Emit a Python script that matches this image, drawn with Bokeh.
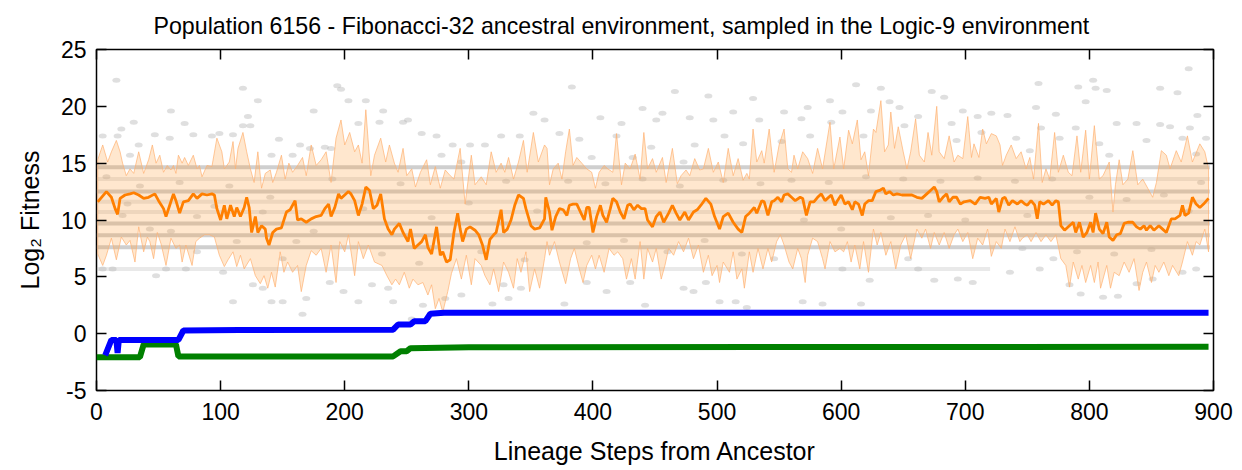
from bokeh.plotting import figure
from bokeh.models import LinearAxis, FixedTicker, Range1d, CustomLabelingPolicy
from bokeh.embed import file_html
from bokeh.resources import INLINE

TITLE = "Population 6156 - Fibonacci-32 ancestral environment, sampled in the Logic-9 environment"
X_LABEL = "Lineage Steps from Ancestor"
Y_LABEL = "Log\u2082 Fitness"
x_ticks = [0, 100, 200, 300, 400, 500, 600, 700, 800, 900]
y_ticks = [-5, 0, 5, 10, 15, 20, 25]
y_tick_text = {-5: "-5"}

# mean log2 fitness of the sampled population along the lineage
mean_step = [1, 8, 12, 15, 17, 19, 23, 27, 30, 34, 38, 42, 47, 50, 54, 56, 59, 62, 64, 67, 70, 74, 78, 81, 85, 89, 93, 95, 97, 100,
             103, 105, 108, 111, 113, 116, 119, 121, 123, 125, 128, 130, 133, 136, 137, 139, 142, 145, 149, 153, 156, 160, 162, 165, 169, 173, 177, 181,
             184, 187, 189, 192, 195, 197, 200, 203, 205, 208, 211, 214, 217, 220, 223, 226, 229, 232, 235, 238, 240, 244, 247, 251, 253, 256, 259, 262,
             265, 267, 270, 274, 277, 279, 282, 285, 288, 291, 293, 295, 298, 301, 305, 308, 311, 314, 317, 320, 322, 326, 328, 331, 334, 337, 340, 344,
             346, 350, 353, 357, 361, 362,
             365, 367, 370, 373, 376, 379, 381, 384, 387, 390, 393, 395, 397, 400, 403, 406, 408, 411, 414, 416, 419, 422, 425, 428, 430, 433, 436, 439,
             442, 444, 448, 451, 454, 457, 461, 464, 467, 470, 474, 477, 481, 484, 487, 491, 495, 498, 502, 505, 509, 513, 517, 520, 523, 526, 530, 532,
             536, 538, 541, 544,
             546, 549, 552, 554, 557, 560, 563, 567, 569, 572, 575, 578, 581, 584, 587, 589, 592, 595, 597, 600, 603, 606, 609, 611, 614, 617, 619, 622,
             625, 628, 631, 634, 636, 639, 642, 645, 649, 652, 657, 661, 665, 669, 672, 675, 677, 679, 682, 685, 687, 690, 693, 696, 699, 704, 708, 712,
             716, 719, 721, 725,
             727, 730, 732, 735, 738, 742, 745, 748, 750, 753, 756, 758, 760, 763, 767, 770, 773, 775, 777, 780, 783, 787, 789, 792, 795, 798, 801, 803,
             805, 808, 811, 814, 816, 819, 822, 825, 828, 831, 835, 838, 841, 844, 846, 849, 852, 856, 859, 862, 866, 869, 873, 875, 877, 880, 883, 886,
             889, 892, 896]
mean_fit = [11.6, 12.5, 12.0, 11.0, 10.5, 11.9, 12.2, 12.3, 12.4, 12.2, 11.9, 12.0, 12.3, 11.7, 11.0, 10.3, 11.3, 12.3, 11.7, 10.6, 11.6, 11.7, 12.3, 11.9, 12.3, 12.2, 12.3, 12.2, 11.0, 10.0,
            11.3, 10.1, 11.3, 10.3, 11.1, 10.3, 11.1, 12.0, 11.1, 8.9, 10.3, 8.9, 9.5, 9.2, 8.4, 7.8, 8.9, 9.2, 9.3, 10.7, 10.9, 11.7, 10.0, 10.1, 9.8, 10.1, 10.3, 10.4,
            11.0, 11.4, 10.3, 11.1, 12.3, 11.9, 12.2, 12.5, 12.3, 11.7, 10.4, 11.4, 12.9, 12.6, 11.0, 11.3, 12.3, 10.1, 9.2, 8.7, 9.2, 9.7, 8.9, 8.1, 9.2, 7.5, 7.8, 8.1,
            8.7, 7.6, 7.0, 9.4, 6.9, 7.2, 6.3, 6.5, 8.9, 10.6, 9.2, 8.1, 9.2, 9.4, 9.1, 8.7, 7.8, 6.5, 8.3, 8.7, 8.9, 10.9, 8.9, 9.2, 10.0, 11.3, 12.2, 11.9,
            11.0, 9.5, 9.2, 9.3, 10.1, 12.0,
            10.7, 9.1, 10.3, 11.0, 10.9, 10.4, 11.3, 11.4, 11.4, 10.7, 10.0, 11.1, 11.1, 8.9, 10.3, 11.3, 10.4, 9.8, 11.0, 11.9, 11.6, 10.7, 10.1, 11.3, 11.4, 10.9, 11.3, 11.0,
            11.0, 10.0, 9.4, 10.3, 10.7, 9.8, 10.6, 11.3, 10.6, 10.0, 10.7, 10.0, 10.7, 10.9, 11.3, 11.9, 11.4, 10.3, 9.2, 10.3, 10.6, 9.8, 9.2, 8.9, 10.3, 10.6, 11.1, 10.6,
            11.7, 11.6, 10.4, 11.6,
            11.7, 12.0, 11.6, 12.2, 12.3, 12.0, 11.7, 12.0, 11.9, 10.4, 11.6, 11.6, 12.0, 12.3, 11.7, 11.9, 12.2, 11.3, 11.7, 12.2, 11.4, 11.6, 10.9, 11.6, 11.4, 10.4, 11.4, 11.7,
            11.7, 12.5, 12.6, 12.8, 12.3, 12.5, 12.2, 12.3, 12.2, 12.2, 12.2, 12.0, 11.9, 12.3, 12.6, 12.9, 12.5, 11.6, 12.0, 12.3, 11.6, 12.0, 12.0, 11.4, 11.6, 11.7, 11.4, 12.0,
            11.9, 12.0, 11.4, 11.9,
            10.7, 11.9, 12.0, 11.3, 11.7, 11.4, 11.7, 11.4, 11.3, 11.7, 11.3, 10.1, 11.6, 11.4, 11.7, 11.3, 11.7, 11.6, 9.5, 9.1, 9.4, 9.8, 8.9, 9.8, 8.5, 8.9, 9.8, 8.9,
            10.6, 9.2, 8.8, 9.8, 8.5, 8.2, 8.7, 8.8, 9.7, 9.8, 9.8, 9.4, 9.2, 9.5, 9.1, 9.5, 9.1, 9.5, 9.2, 8.9, 10.1, 10.1, 10.4, 11.3, 10.4, 10.6, 12.0, 11.4,
            11.1, 11.4, 11.9]

# upper edge of the shaded spread
band_hi_step = [1, 5, 9, 12, 16, 19, 21, 24, 27, 30, 34, 38, 42, 45, 48, 51, 54, 57, 60, 62, 64, 66, 69, 71, 74, 78, 81, 83, 85, 89, 93, 97, 101, 103,
                107, 110, 112, 114, 118, 121, 124, 127, 130, 133, 136, 140, 142, 145, 149, 152, 155, 158, 162, 166, 169, 173, 177, 181,
                185, 189, 193, 197, 200, 204, 208, 211, 214, 217, 221, 224, 229, 233, 236, 240, 243, 247, 250, 254, 257, 261, 266, 269, 273, 277,
                281, 285, 288, 293, 297, 302, 305, 310, 314, 318, 322, 326, 329, 332, 336, 340, 344, 347, 352, 356, 361,
                363, 365, 368, 372, 375, 378, 381, 384, 387, 391, 395, 399, 402, 405, 409, 412, 416, 419, 423, 426, 430, 434, 438, 441, 444, 448,
                451, 456, 459, 464, 468, 471, 475, 478, 482, 486, 489, 493, 497, 501, 505, 509, 513, 517, 521, 524, 526, 529, 532, 536, 538, 542,
                544, 546, 550, 554, 557, 560, 562, 565, 569, 573, 577, 581, 585, 591, 594, 599, 602, 606, 609, 613, 616, 619, 622, 626, 628, 632,
                635, 638, 640, 643, 646, 650, 653, 656, 660, 663, 667, 670, 673, 677, 679, 683, 687, 691, 694, 698, 702, 705, 707, 711, 714, 717, 721,
                725, 728, 730, 733, 737, 741, 745, 749, 752, 755, 759, 762, 765, 768, 772, 775, 779, 783, 786, 790, 793, 797, 800, 804, 808, 811,
                816, 819, 821, 824, 827, 831, 835, 839, 843, 847, 851, 854, 858, 862, 865, 870, 874, 879, 883, 889, 893, 896]
band_hi_fit = [15.3, 16.6, 15.1, 16.0, 17.0, 16.0, 15.0, 13.9, 14.5, 14.1, 16.0, 14.1, 15.3, 16.6, 15.0, 15.7, 14.2, 14.8, 14.4, 14.8, 14.1, 15.7, 15.0, 15.5, 14.8, 15.7, 14.5, 14.8, 13.8, 14.8, 14.7, 17.2, 16.0, 14.5,
               15.1, 16.9, 14.5, 16.3, 17.7, 16.0, 14.5, 13.3, 16.0, 12.8, 14.1, 14.4, 13.3, 14.2, 15.7, 13.6, 15.0, 14.2, 14.8, 15.5, 13.9, 16.6, 14.8, 15.3,
               16.0, 13.3, 17.2, 18.8, 16.6, 17.7, 16.0, 16.6, 15.0, 19.7, 13.9, 15.7, 17.2, 15.1, 16.6, 15.0, 14.2, 16.3, 13.9, 14.5, 12.9, 14.2, 15.3, 13.1, 14.7, 12.8,
               14.4, 13.9, 13.6, 16.3, 11.4, 15.7, 13.1, 13.8, 13.1, 16.0, 14.2, 15.0, 14.2, 15.5, 13.6, 15.1, 17.0, 14.2, 17.7, 15.1, 16.6,
               16.3, 13.1, 14.5, 15.0, 13.6, 16.0, 18.0, 14.8, 15.5, 15.0, 14.5, 14.2, 12.8, 14.2, 14.8, 14.5, 14.2, 17.6, 13.1, 15.0, 14.5, 15.8, 13.6, 17.7, 14.5, 15.4,
               14.2, 15.5, 13.3, 16.3, 13.2, 13.9, 14.4, 13.9, 15.4, 14.4, 14.5, 16.3, 14.2, 15.1, 13.3, 16.3, 13.9, 15.4, 13.5, 14.1, 13.6, 18.0, 15.1, 16.1, 15.0, 18.0,
               16.0, 14.2, 16.6, 18.0, 14.5, 14.2, 15.7, 14.5, 16.0, 15.4, 14.1, 16.3, 14.5, 18.6, 14.5, 17.3, 14.5, 17.9, 16.7, 18.8, 15.3, 16.0, 13.9, 18.0, 17.7, 20.5,
               16.0, 16.6, 19.5, 16.3, 18.2, 16.0, 14.5, 16.0, 18.9, 15.7, 15.1, 17.7, 15.7, 20.0, 16.0, 15.4, 17.4, 15.1, 15.7, 15.4, 19.1, 15.5, 16.7, 15.5, 18.0, 16.7, 17.6,
               17.4, 16.6, 14.8, 15.7, 16.6, 15.4, 16.0, 14.5, 15.5, 13.6, 18.5, 13.3, 14.5, 13.6, 17.7, 14.2, 15.7, 14.2, 13.9, 17.4, 14.2, 17.9, 13.6, 18.3, 13.6, 13.9,
               15.1, 10.7, 13.1, 15.3, 13.1, 13.6, 16.1, 13.1, 13.6, 12.8, 12.0, 13.3, 16.1, 15.7, 14.5, 16.1, 15.1, 17.4, 15.1, 16.7, 16.0, 14.5]

# lower edge of the shaded spread
band_lo_step = [1, 5, 8, 12, 16, 20, 24, 27, 31, 34, 38, 41, 43, 46, 49, 52, 56, 60, 64, 67, 69, 72, 77, 80, 83, 87, 91, 95, 99, 103, 106, 110,
                113, 116, 119, 124, 128, 132, 135, 138, 141, 144, 148, 151, 154, 158, 162, 165, 169, 173, 177, 181,
                185, 189, 193, 196, 200, 203, 208, 211, 215, 219, 224, 230, 234, 238, 241, 244, 248, 252, 255, 259, 263, 267, 270, 273, 276, 279,
                283, 286, 290, 294, 298, 302, 305, 310, 313, 317, 320, 324, 328, 332, 336, 339, 342, 346, 349, 353, 357, 361,
                363, 365, 369, 373, 378, 382, 385, 389, 392, 395, 399, 402, 405, 409, 413, 417, 420, 424, 427, 431, 434, 438, 441, 444, 448, 451,
                455, 458, 461, 465, 469, 473, 477, 481, 485, 489, 493, 496, 500, 502, 505, 510, 513, 516, 520, 522, 526, 529, 533, 537, 541,
                544, 548, 551, 554, 558, 561, 565, 568, 571, 573, 577, 581, 585, 587, 591, 595, 599, 602, 605, 608, 611, 615, 618, 622, 626, 629,
                632, 636, 640, 644, 648, 652, 656, 661, 665, 668, 672, 675, 679, 683, 687, 691, 694, 698, 702, 706, 710, 714, 718, 721,
                725, 729, 732, 736, 740, 744, 746, 750, 753, 757, 761, 765, 769, 773, 777, 781, 784, 787, 791, 794, 797, 801, 804, 807, 809,
                814, 817, 820, 824, 828, 832, 836, 840, 843, 846, 850, 853, 856, 860, 864, 867, 872, 875, 879, 883, 886, 889, 893, 896]
band_lo_fit = [7.0, 6.0, 6.9, 8.4, 6.5, 8.5, 7.8, 8.2, 6.3, 9.4, 7.2, 8.5, 8.1, 6.6, 8.9, 7.9, 6.0, 8.4, 7.5, 7.8, 6.3, 7.8, 6.0, 8.1, 8.4, 8.7, 8.7, 8.5, 6.9, 5.9, 6.5, 7.2,
               5.9, 6.9, 5.7, 6.6, 5.1, 4.4, 5.1, 4.0, 5.4, 4.1, 7.2, 5.4, 6.3, 5.4, 6.0, 3.7, 6.0, 7.3, 6.9, 7.5,
               5.4, 7.8, 4.5, 8.1, 7.2, 8.7, 5.1, 8.1, 6.6, 7.8, 6.3, 6.0, 5.1, 4.3, 4.8, 4.3, 5.4, 4.0, 4.8, 4.3, 4.5, 3.4, 4.3, 2.2, 3.1, 1.9,
               3.7, 5.3, 6.6, 4.8, 6.9, 4.3, 6.6, 6.0, 5.1, 4.3, 5.7, 3.7, 6.3, 5.4, 4.0, 6.6, 5.4, 7.2, 3.7, 5.7, 4.0, 6.6,
               8.1, 6.9, 8.1, 6.3, 4.4, 6.6, 7.5, 5.7, 4.5, 6.0, 6.9, 5.7, 6.9, 5.4, 7.5, 6.9, 7.2, 6.6, 4.8, 6.6, 4.8, 8.1, 4.8, 7.5, 6.3, 7.5,
               4.8, 6.0, 7.5, 6.9, 8.1, 7.2, 8.4, 6.6, 7.8, 5.4, 6.9, 5.1, 6.0, 4.5, 6.3, 5.4, 7.2, 4.8, 5.7, 4.0, 7.2, 5.4, 7.5, 5.7, 7.5,
               6.3, 8.1, 8.7, 7.8, 6.3, 5.7, 7.5, 6.6, 4.5, 6.9, 8.4, 8.1, 6.6, 5.7, 8.1, 7.2, 7.5, 7.2, 8.1, 6.3, 7.8, 5.7, 8.1, 5.4, 9.2, 7.8,
               8.9, 6.9, 8.1, 5.7, 7.8, 8.7, 6.6, 9.2, 8.4, 9.2, 7.5, 8.9, 7.8, 8.9, 7.5, 8.7, 9.2, 8.1, 8.9, 6.6, 8.4, 7.8, 9.2, 6.8,
               8.1, 7.5, 9.2, 8.1, 9.4, 8.1, 8.4, 8.7, 8.1, 8.9, 8.1, 8.7, 8.1, 8.7, 6.6, 6.0, 4.1, 6.3, 4.8, 6.0, 4.5, 6.0, 4.5, 6.3, 4.0,
               6.0, 4.0, 5.4, 5.1, 6.3, 5.4, 6.6, 3.8, 5.4, 6.3, 4.5, 6.0, 5.4, 6.3, 5.1, 6.0, 5.1, 6.3, 8.1, 6.9, 8.1, 7.8, 9.2, 7.2]

# individual sampled genotypes (scattered)
dot_step = [118, 130, 122, 60, 71, 30, 20, 5, 17, 47, 59, 78, 93, 99, 110, 118, 124, 147, 164, 175, 172, 34, 27, 141, 158, 16,
            48, 110, 141, 150, 166, 126, 134, 169, 102, 5, 13, 56, 72,
            197, 217, 203, 231, 211, 228, 251, 247, 262, 274, 287, 301, 313, 326, 352, 361, 189, 278, 294, 341, 184, 194,
            254, 239, 263, 281, 294, 319, 332, 342, 328, 211, 222, 188, 199, 235,
            383, 466, 493, 529, 440, 456, 406, 423, 451, 478, 497, 513, 534, 373, 389, 419, 447, 482, 506, 521, 399, 432, 473,
            377, 442, 473, 481, 502, 515, 524, 411, 430, 395, 491,
            612, 632, 673, 683, 591, 573, 639, 554, 601, 624, 647, 698, 710, 721, 568, 592, 662, 689, 552, 575, 618, 651, 693, 713,
            569, 585, 616, 623, 654, 662, 675, 694, 706, 601, 546,
            791, 805, 814, 857, 871, 734, 757, 773, 797, 838, 857, 887, 761, 789, 822, 865, 881, 741, 776, 808, 846, 875, 894, 752, 816, 886, 880, 759, 803,
            784, 793, 811, 823, 838, 851, 875, 886, 736, 760, 746, 771,
            8, 35, 67, 107, 21, 81, 134, 43, 113, 161, 81, 150, 190, 215, 245, 270, 300, 330, 355, 230, 260, 310, 345, 380, 410, 440, 470, 505, 535,
            395, 425, 460, 490, 520, 560, 590, 620, 650, 680, 710, 570, 600, 640, 670, 700, 740, 770, 800, 830, 860, 890, 750, 790, 820, 850, 880,
            25, 60, 95, 140, 175]
dot_fit = [21.6, 20.5, 19.1, 19.6, 18.5, 18.6, 18.0, 17.4, 17.4, 17.5, 17.2, 17.5, 17.4, 17.6, 17.5, 18.3, 18.3, 17.1, 16.6, 19.6, 16.3, 16.6, 15.7, 15.7, 15.7, 22.3,
           5.1, 2.8, 2.8, 2.8, 1.7, 4.3, 4.0, 3.1, 5.4, 5.7, 5.7, 5.7, 5.7,
           21.5, 20.5, 20.5, 19.6, 18.5, 18.6, 18.8, 18.6, 17.6, 17.4, 16.6, 16.6, 16.6, 17.4, 19.4, 18.8, 16.3, 15.7, 15.1, 17.4, 16.4, 21.8,
           1.3, 2.8, 2.5, 3.1, 3.4, 2.6, 3.1, 4.0, 4.3, 2.8, 4.3, 4.5, 3.7, 4.0,
           21.7, 21.3, 20.9, 20.7, 19.8, 19.4, 19.0, 18.5, 18.8, 19.0, 18.8, 19.5, 18.8, 17.6, 17.1, 17.4, 16.4, 16.6, 17.4, 16.7, 15.5, 15.5, 15.1,
           2.6, 2.5, 4.0, 3.7, 2.8, 2.8, 2.3, 3.7, 4.5, 4.5, 4.5,
           21.9, 21.6, 21.3, 20.8, 20.5, 19.9, 20.4, 19.5, 19.5, 19.6, 19.9, 19.6, 19.1, 19.4, 18.9, 18.6, 19.1, 18.5, 16.9, 17.4, 17.4, 18.3, 17.0, 17.7,
           2.8, 2.6, 2.6, 4.7, 6.6, 5.7, 4.7, 4.8, 4.5, 5.7, 6.6,
           21.7, 21.6, 21.4, 21.6, 21.2, 19.2, 19.9, 19.3, 20.4, 18.5, 18.4, 19.2, 18.1, 18.1, 18.5, 18.2, 18.1, 17.2, 17.2, 16.7, 17.0, 17.2, 17.2, 16.1, 15.7, 15.8, 23.3, 22.0, 22.3,
           4.3, 3.5, 3.2, 3.3, 4.4, 4.8, 5.4, 5.7, 5.4, 5.7, 7.5, 6.6,
           13.8, 13.0, 13.3, 13.0, 10.4, 10.3, 10.7, 9.2, 8.1, 8.1, 7.2, 6.6, 13.6, 11.0, 13.2, 10.2, 11.5, 13.4, 10.8, 7.0, 6.2, 7.2, 6.5, 13.4, 13.2, 13.6, 13.0, 13.5, 13.2,
           8.0, 8.2, 7.2, 8.2, 7.0, 13.5, 13.3, 13.8, 13.6, 13.4, 13.7, 10.0, 9.2, 10.2, 10.4, 10.0, 13.4, 13.6, 12.0, 11.8, 12.2, 13.3, 10.4, 7.2, 7.0, 7.4, 10.8,
           11.4, 9.0, 11.2, 12.0, 9.0]

# fitness levels shared by many sampled genotypes (horizontal streaks)
common_level = [14.65, 12.5, 9.7, 8.65, 7.6]
common_from = [0, 0, 0, 0, 0]
common_to = [897, 897, 897, 897, 897]
rare_level = [13.6, 11.6, 10.7, 5.7]
rare_from = [0, 0, 0, 0]
rare_to = [897, 897, 897, 720]

# lineage trajectories
blue_step = [7, 12, 16, 17, 18, 66, 70, 115, 239, 243, 253, 256, 265, 269, 280, 896]
blue_fit = [-1.9, -0.55, -0.55, -1.7, -0.55, -0.55, 0.28, 0.33, 0.35, 0.81, 0.81, 1.1, 1.1, 1.75, 1.84, 1.84]
green_step = [0, 35, 38, 64, 66, 239, 245, 250, 253, 300, 896]
green_fit = [-2.07, -2.07, -0.95, -0.95, -2.0, -2.0, -1.54, -1.54, -1.28, -1.2, -1.15]

FONT = "Liberation Sans"

p = figure(width=1242, height=470, x_range=Range1d(0, 900), y_range=Range1d(-5, 25),
           output_backend="svg", toolbar_location=None,
           min_border_left=96, min_border_right=29, min_border_top=49, min_border_bottom=80)
p.grid.visible = False
p.outline_line_color = "black"
p.outline_line_width = 1.5
p.background_fill_color = "white"
p.border_fill_color = "white"

p.title.text = TITLE
p.title.text_font = FONT
p.title.text_font_size = "23.2px"
p.title.text_font_style = "normal"
p.title.text_color = "black"
p.title.align = "left"
p.title.offset = 57
p.title.standoff = 21

hide_labels = CustomLabelingPolicy(code="""
const all = [...indices]
for (const i of all) { indices.unset(i) }
return indices
""")

def style_axis(ax, labels=True):
    ax.axis_line_color = None
    ax.major_tick_in = 10
    ax.major_tick_out = 0
    ax.minor_tick_in = 0
    ax.minor_tick_out = 0
    ax.major_tick_line_color = "black"
    ax.major_tick_line_width = 1.5
    ax.major_label_text_font = FONT
    ax.major_label_text_color = "black"
    if labels:
        ax.major_label_text_font_size = "23px"
    else:
        ax.major_label_text_font_size = "0px"
        ax.major_label_standoff = 0
        ax.major_label_policy = hide_labels

xax = p.xaxis[0]
yax = p.yaxis[0]
xax.ticker = FixedTicker(ticks=x_ticks)
yax.ticker = FixedTicker(ticks=y_ticks)
yax.major_label_overrides = y_tick_text
style_axis(xax)
style_axis(yax)
xax.major_label_standoff = 12
yax.major_label_standoff = 10
xax.axis_label = X_LABEL
yax.axis_label = Y_LABEL
for ax in (xax, yax):
    ax.axis_label_text_font = FONT
    ax.axis_label_text_font_size = "25px"
    ax.axis_label_text_font_style = "normal"
    ax.axis_label_text_color = "black"
xax.axis_label_standoff = 14
yax.axis_label_standoff = 14

rax = LinearAxis(ticker=FixedTicker(ticks=y_ticks))
style_axis(rax, labels=False)
p.add_layout(rax, "right")
tax = LinearAxis(ticker=FixedTicker(ticks=x_ticks))
style_axis(tax, labels=False)
p.add_layout(tax, "above")

# scattered samples and common fitness levels
p.segment(x0=common_from, y0=common_level, x1=common_to, y1=common_level,
          line_color="#949494", line_alpha=0.45, line_width=4)
p.segment(x0=rare_from, y0=rare_level, x1=rare_to, y1=rare_level,
          line_color="#a8a8a8", line_alpha=0.25, line_width=4)
p.ellipse(x=dot_step, y=dot_fit, width=8, height=5, width_units="screen", height_units="screen",
          fill_color="#b8b8b8", fill_alpha=0.45, line_color=None)

# spread band
band_x = band_hi_step + band_lo_step[::-1]
band_y = band_hi_fit + band_lo_fit[::-1]
p.patch(band_x, band_y, fill_color="#ff9933", fill_alpha=0.24,
        line_color="#ffb070", line_alpha=0.7, line_width=1)

p.line(mean_step, mean_fit, line_color="#ff7f00", line_width=2.8)

p.line(green_step, green_fit, line_color="#008000", line_width=6)
p.line(blue_step, blue_fit, line_color="#0000ff", line_width=6)

open("out.html", "w").write(file_html(p, INLINE))
